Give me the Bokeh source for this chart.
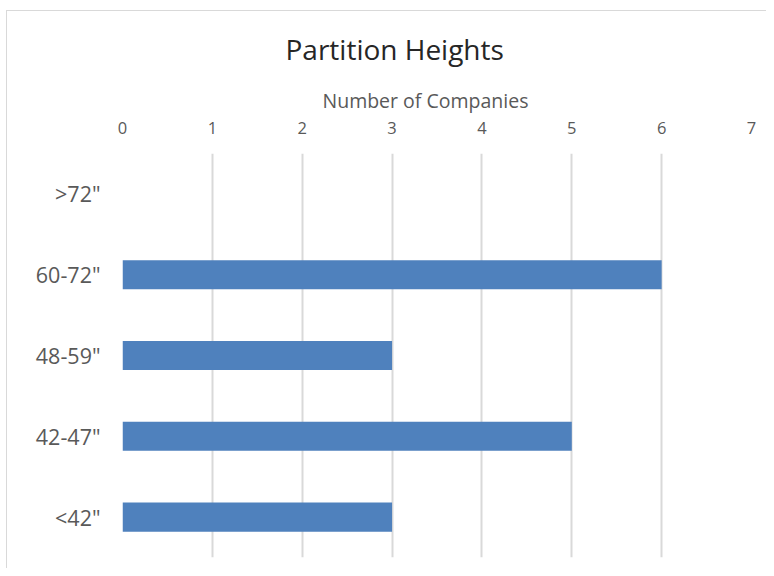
from bokeh.plotting import figure
from bokeh.embed import file_html
from bokeh.resources import INLINE
from bokeh.models import FactorRange, Range1d, FixedTicker, Title

# Data
categories = ['<42"', '42-47"', '48-59"', '60-72"', '>72"']
companies = [3, 5, 3, 6, 0]
x_ticks = [0, 1, 2, 3, 4, 5, 6, 7]

FONT = "Open Sans"
TEXT = "#595959"

p = figure(
    width=766, height=568,
    y_range=FactorRange(*categories),
    x_range=Range1d(0, 7),
    x_axis_location="above",
    output_backend="svg",
    toolbar_location=None,
    min_border_left=122, min_border_right=15,
    min_border_top=153, min_border_bottom=11,
)
p.border_fill_color = None
p.outline_line_color = None
p.styles = {"box-shadow": "inset 0 10px 0 white, inset 6px 0 0 white, inset 7px 11px 0 #d9d9d9"}

p.hbar(y=categories, right=companies, left=0, height=0.36,
       fill_color="#4f81bd", line_color=None)

# Main title
p.title.text = "Partition Heights"
p.title.align = "left"
p.title.offset = 163
p.title.text_font = FONT
p.title.text_font_size = "28px"
p.title.text_font_style = "normal"
p.title.text_color = "#262626"
p.title.standoff = 25

# Axis title
axis_title = Title(text="Number of Companies", align="left", offset=200,
                   text_font=FONT, text_font_size="19.5px", text_font_style="normal",
                   text_color=TEXT, standoff=9)
p.add_layout(axis_title, "above")

# X axis
xa = p.xaxis[0]
xa.ticker = FixedTicker(ticks=x_ticks)
xa.major_label_text_font = FONT
xa.major_label_text_font_size = "16.5px"
xa.major_label_text_color = TEXT
xa.major_label_standoff = 14
xa.axis_line_color = None
xa.major_tick_line_color = None
xa.minor_tick_line_color = None

# Y axis
ya = p.yaxis[0]
ya.major_label_text_font = FONT
ya.major_label_text_font_size = "21.5px"
ya.major_label_text_color = TEXT
ya.major_label_standoff = 16
ya.axis_line_color = None
ya.major_tick_line_color = None
ya.minor_tick_line_color = None

p.ygrid.grid_line_color = None
p.xgrid.grid_line_color = "#d9d9d9"
p.xgrid.grid_line_width = 2

open("out.html", "w").write(file_html(p, INLINE))
